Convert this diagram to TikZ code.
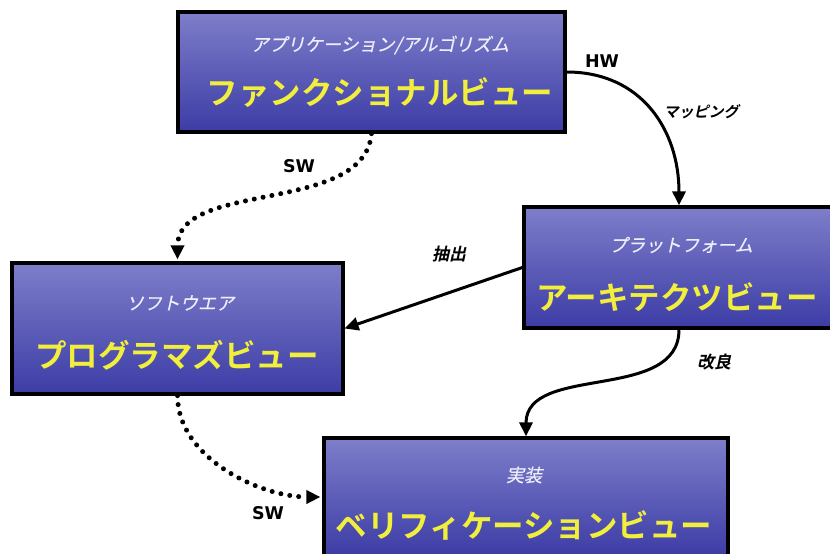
\documentclass[tikz,border=0pt]{standalone}
\usepackage{fontspec}
\usetikzlibrary{arrows.meta}
\newfontfamily\jpbf{Noto Sans CJK JP Bold}
\newfontfamily\jpit{Noto Sans CJK JP}[FakeSlant=0.22,FakeBold=0.6]
\newfontfamily\jpitb{Noto Sans CJK JP Bold}[FakeSlant=0.22]
\newfontfamily\labf{DejaVu Sans Bold}
\definecolor{boxtop}{HTML}{7E7ECA}
\definecolor{boxbot}{HTML}{3C3CA6}
\definecolor{mainyel}{HTML}{F2EE3C}
\definecolor{subwhite}{HTML}{EEEEFA}
\tikzset{
  viewbox/.style={draw=black, line width=3.2pt, top color=boxtop, bottom color=boxbot, inner sep=0pt},
  sublabel/.style={text=subwhite, font=\jpit\fontsize{18}{18}\selectfont, inner sep=0pt},
  mainlabel/.style={text=mainyel, font=\jpbf\fontsize{31.5}{31.5}\selectfont, inner sep=0pt},
  latin/.style={font=\labf\fontsize{17.5}{17.5}\selectfont, inner sep=0pt},
  jplab/.style={font=\jpitb\fontsize{17}{17}\selectfont, inner sep=0pt},
  solidcon/.style={line width=3pt, -{Triangle[length=14pt,width=13pt]}},
  dotcon/.style={line width=5pt, line cap=round, dash pattern=on 0pt off 9pt, -{Triangle[length=14pt,width=13pt,sep=2pt]}},
}
\begin{document}
\begin{tikzpicture}[x=1pt,y=-1pt]
\useasboundingbox (0,0) rectangle (830,554);
\clip (0,0) rectangle (830,554);
\fill[white] (0,0) rectangle (830,554);
% boxes
\node[viewbox, minimum width=387pt, minimum height=120pt] (b1) at (371.5,72) {};
\node[viewbox, minimum width=310pt, minimum height=121pt] (b2) at (679,267.5) {};
\node[viewbox, minimum width=331pt, minimum height=131pt] (b3) at (177.5,328.5) {};
\node[viewbox, minimum width=404pt, minimum height=118pt] (b4) at (526,497) {};
% texts
\node[sublabel] (s1) at (380,45) {アプリケーション/アルゴリズム};
\node[mainlabel] (m1) at (380,93) {ファンクショナルビュー};
\node[sublabel] (s2) at (681,245) {プラットフォーム};
\node[mainlabel] (m2) at (677,297) {アーキテクツビュー};
\node[sublabel] (s3) at (180,303) {ソフトウエア};
\node[mainlabel] (m3) at (177,355) {プログラマズビュー};
\node[sublabel] (s4) at (524,475) {実装};
\node[mainlabel] (m4) at (524,525) {ベリフィケーションビュー};
% connectors
\draw[solidcon] (b1.east) to[out=0,in=90,looseness=1.1] (b2.north);
\draw[dotcon] (b1.south) to[out=-95,in=90,looseness=0.9] (b3.north);
\draw[solidcon] (b2.west) -- (b3.east);
\draw[solidcon] (b2.south) to[out=-90,in=90,looseness=1] (b4.north);
\draw[dotcon] (b3.south) to[out=-90,in=180,looseness=0.9] (b4.west);
% labels
\node[latin] (hw) at (602,61) {HW};
\node[jplab, font=\jpitb\fontsize{15}{15}\selectfont] (map) at (701,112) {マッピング};
\node[latin] (sw1) at (299,166) {SW};
\node[jplab] (ext) at (449,254) {抽出};
\node[jplab] (imp) at (714,362) {改良};
\node[latin] (sw2) at (268,513) {SW};
\end{tikzpicture}
\end{document}
